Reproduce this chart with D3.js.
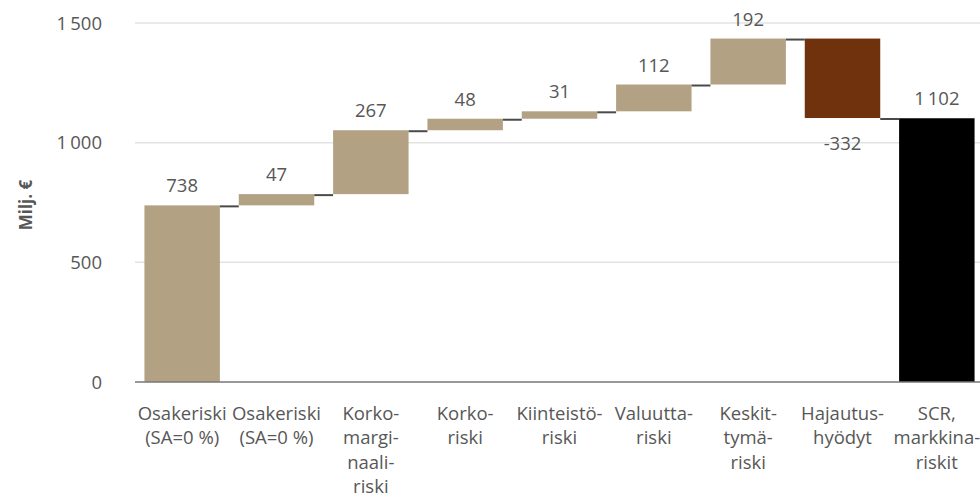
<!DOCTYPE html>
<meta charset="utf-8">
<script src="https://d3js.org/d3.v7.min.js"></script>
<style>
  body { margin: 0; background: #fff; }
  text { font-family: "Open Sans", sans-serif; fill: #575757; }
</style>
<div id="chart"></div>
<script>

// categories (manually wrapped as in the original) and values
var categories = [
  ["Osakeriski", "(SA=0 %)"],
  ["Osakeriski", "(SA=0 %)"],
  ["Korko-", "margi-", "naali-", "riski"],
  ["Korko-", "riski"],
  ["Kiinteistö-", "riski"],
  ["Valuutta-", "riski"],
  ["Keskit-", "tymä-", "riski"],
  ["Hajautus-", "hyödyt"],
  ["SCR,", "markkina-", "riskit"]
];
var values = [738, 47, 267, 48, 31, 112, 192, -332, 1102];
var isTotal = [false, false, false, false, false, false, false, false, true];
var yTicks = [0, 500, 1000, 1500];

var width = 980, height = 499;
var margin = {top: 23, right: -4, bottom: 117, left: 135};
var innerW = width - margin.left - margin.right,
    innerH = height - margin.top - margin.bottom;

var svg = d3.select("#chart").append("svg")
    .attr("width", width)
    .attr("height", height);

var g = svg.append("g")
    .attr("transform", "translate(" + margin.left + "," + margin.top + ")");

// build the running totals
var running = 0;
var data = values.map(function(v, i) {
  var d = {i: i, value: v, total: isTotal[i]};
  if (d.total) { d.start = 0; d.end = v; running = v; }
  else { d.start = running; d.end = running + v; running = d.end; }
  return d;
});

var x = d3.scaleBand()
    .domain(d3.range(categories.length))
    .range([0, innerW])
    .paddingInner(0.2)
    .paddingOuter(0.1);

var y = d3.scaleLinear()
    .domain([0, 1500])
    .range([innerH, 0]);

// thin space as thousands separator, plain hyphen for minus
var fmt = function(v) {
  return d3.format(",")(v).replace(/,/g, "\u2009").replace("\u2212", "-");
};
var fs = "18.5px";

// gridlines
g.append("g").selectAll("line")
  .data(yTicks.filter(function(t) { return t > 0; }))
  .enter().append("line")
    .attr("x1", 0).attr("x2", innerW + 10)
    .attr("y1", function(d) { return y(d); })
    .attr("y2", function(d) { return y(d); })
    .attr("stroke", "#e3e3e3")
    .attr("stroke-width", 1.5);

// y tick labels
g.append("g").selectAll("text")
  .data(yTicks)
  .enter().append("text")
    .attr("x", -33)
    .attr("y", function(d) { return y(d); })
    .attr("dy", "0.36em")
    .attr("text-anchor", "end")
    .style("font-size", fs)
    .text(fmt);

// axis title
svg.append("text")
    .attr("transform", "translate(32,205) rotate(-90)")
    .attr("text-anchor", "middle")
    .style("font-size", "17px")
    .style("font-weight", "bold")
    .text("Milj. €");

// bars
g.append("g").selectAll("rect")
  .data(data)
  .enter().append("rect")
    .attr("x", function(d) { return x(d.i); })
    .attr("width", x.bandwidth())
    .attr("y", function(d) { return y(Math.max(d.start, d.end)); })
    .attr("height", function(d) { return Math.abs(y(d.start) - y(d.end)); })
    .attr("fill", function(d) {
      if (d.total) return "#000000";
      return d.value < 0 ? "#6f320c" : "#b2a283";
    });

// connectors
g.append("g").selectAll("line")
  .data(data.slice(0, -1))
  .enter().append("line")
    .attr("x1", function(d) { return x(d.i) + x.bandwidth(); })
    .attr("x2", function(d) { return x(d.i + 1); })
    .attr("y1", function(d) { return y(d.end) + 1; })
    .attr("y2", function(d) { return y(d.end) + 1; })
    .attr("stroke", "#4a4a4a")
    .attr("stroke-width", 2);

// axis baseline
g.append("line")
    .attr("x1", 0).attr("x2", innerW + 10)
    .attr("y1", y(0)).attr("y2", y(0))
    .attr("stroke", "#777")
    .attr("stroke-width", 1.5);

// value labels
g.append("g").selectAll("text")
  .data(data)
  .enter().append("text")
    .attr("x", function(d) { return x(d.i) + x.bandwidth() / 2; })
    .attr("y", function(d) {
      return d.value < 0 ? y(d.end) + 32 : y(d.end) - 13;
    })
    .attr("text-anchor", "middle")
    .style("font-size", fs)
    .text(function(d) { return fmt(d.value); });

// category labels
var cat = g.append("g").selectAll("text")
  .data(categories)
  .enter().append("text")
    .attr("x", function(d, i) { return x(i) + x.bandwidth() / 2; })
    .attr("y", innerH + 38)
    .attr("text-anchor", "middle")
    .style("font-size", fs);

cat.selectAll("tspan")
  .data(function(d, i) { return d.map(function(s) { return {s: s, i: i}; }); })
  .enter().append("tspan")
    .attr("x", function(d) { return x(d.i) + x.bandwidth() / 2; })
    .attr("dy", function(d, k) { return k === 0 ? 0 : 24.3; })
    .text(function(d) { return d.s; });

</script>
